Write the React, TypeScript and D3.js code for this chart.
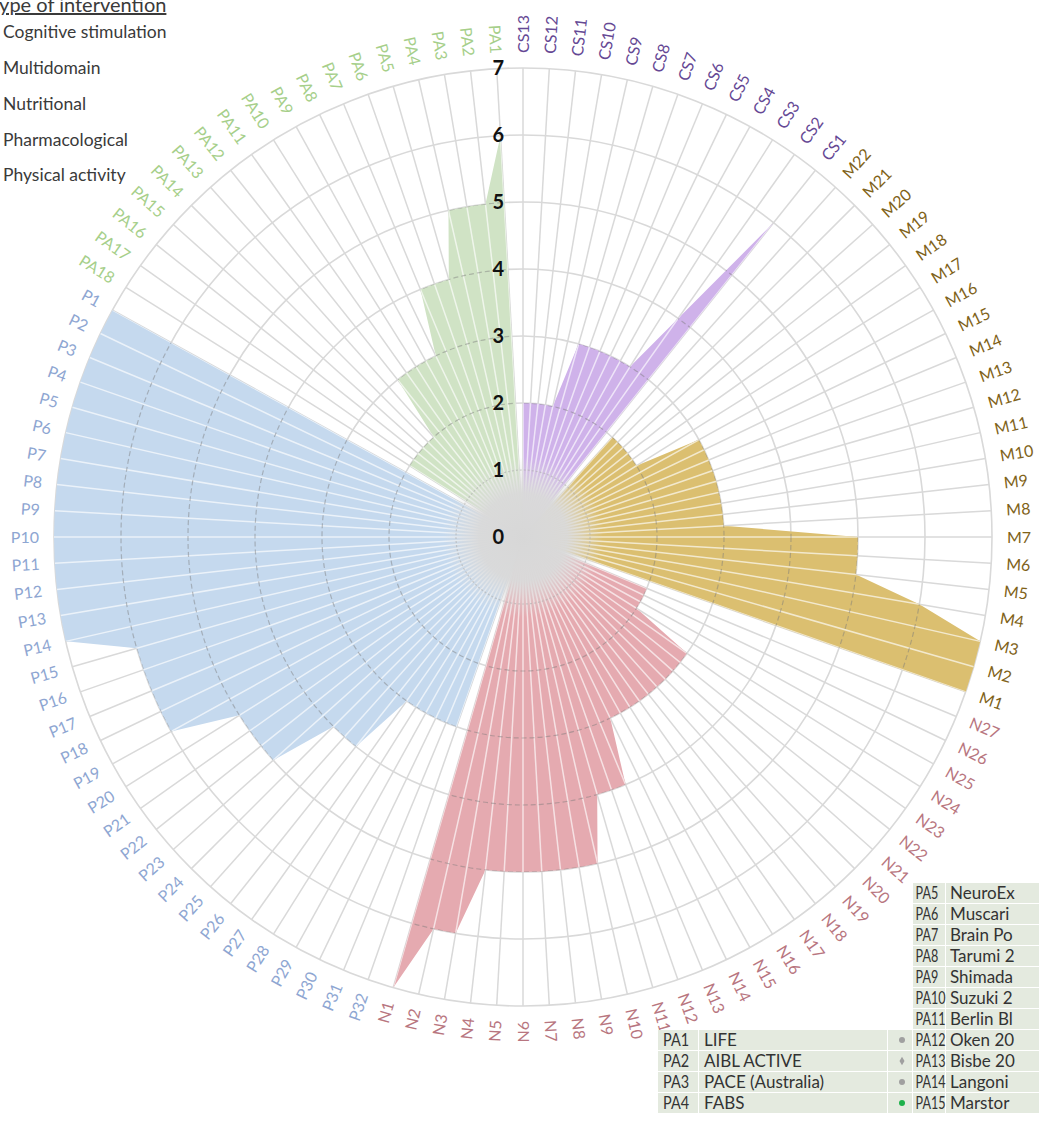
import React from 'react'
import * as d3 from 'd3'

// categories, clockwise from 12 o'clock
const csLabels = ['CS13', 'CS12', 'CS11', 'CS10', 'CS9', 'CS8', 'CS7', 'CS6', 'CS5', 'CS4', 'CS3', 'CS2', 'CS1']
const mLabels = ['M22', 'M21', 'M20', 'M19', 'M18', 'M17', 'M16', 'M15', 'M14', 'M13', 'M12', 'M11', 'M10', 'M9', 'M8', 'M7', 'M6', 'M5', 'M4', 'M3', 'M2', 'M1']
const nLabels = ['N27', 'N26', 'N25', 'N24', 'N23', 'N22', 'N21', 'N20', 'N19', 'N18', 'N17', 'N16', 'N15', 'N14', 'N13', 'N12', 'N11', 'N10', 'N9', 'N8', 'N7', 'N6', 'N5', 'N4', 'N3', 'N2', 'N1']
const pLabels = ['P32', 'P31', 'P30', 'P29', 'P28', 'P27', 'P26', 'P25', 'P24', 'P23', 'P22', 'P21', 'P20', 'P19', 'P18', 'P17', 'P16', 'P15', 'P14', 'P13', 'P12', 'P11', 'P10', 'P9', 'P8', 'P7', 'P6', 'P5', 'P4', 'P3', 'P2', 'P1']
const paLabels = ['PA18', 'PA17', 'PA16', 'PA15', 'PA14', 'PA13', 'PA12', 'PA11', 'PA10', 'PA9', 'PA8', 'PA7', 'PA6', 'PA5', 'PA4', 'PA3', 'PA2', 'PA1']

// values, same order as the labels
const csValues = [2, 2, 2, 2, 2, 3, 3, 3, 3, 3, 3, 4, 6]
const mValues = [2, 2, 2, 2, 2, 2, 3, 3, 3, 3, 3, 3, 3, 3, 3, 5, 5, 5, 6, 7, 7, 7]
const nValues = [2, 2, 2, 2, 3, 3, 3, 3, 3, 3, 3, 3, 3, 3, 4, 4, 4, 5, 5, 5, 5, 5, 5, 5, 6, 6, 7]
const pValues = [3, 3, 3, 3, 3, 3, 4, 4, 4, 5, 5, 5, 5, 6, 6, 6, 6, 6, 7, 7, 7, 7, 7, 7, 7, 7, 7, 7, 7, 7, 7, 7]
const paValues = [2, 2, 2, 2, 2, 2, 3, 3, 3, 3, 3, 4, 4, 4, 5, 5, 5, 6]

const radialTicks = [0, 1, 2, 3, 4, 5, 6, 7]

const legendTypes = ['Cognitive stimulation', 'Multidomain', 'Nutritional', 'Pharmacological', 'Physical activity']

const tableLeftCodes = ['PA1', 'PA2', 'PA3', 'PA4']
const tableLeftNames = ['LIFE', 'AIBL ACTIVE', 'PACE (Australia)', 'FABS']
const tableLeftMarks = ['dot', 'diamond', 'dot', 'green']
const tableRightCodes = ['PA5', 'PA6', 'PA7', 'PA8', 'PA9', 'PA10', 'PA11', 'PA12', 'PA13', 'PA14', 'PA15']
const tableRightNames = ['NeuroEx', 'Muscari', 'Brain Po', 'Tarumi 2', 'Shimada', 'Suzuki 2', 'Berlin Bl', 'Oken 20', 'Bisbe 20', 'Langoni', 'Marstor']

const groups = [
  { labels: csLabels, values: csValues, fill: '#cfb2ea', text: '#654894' },
  { labels: mLabels, values: mValues, fill: '#dbbf70', text: '#806218' },
  { labels: nLabels, values: nValues, fill: '#e5aab0', text: '#b87680' },
  { labels: pLabels, values: pValues, fill: '#c5d9ee', text: '#8ea6d2' },
  { labels: paLabels, values: paValues, fill: '#d0e3c5', text: '#a6cf8a' },
]

const FONT = "Lato, 'Open Sans', sans-serif"

export default function App() {
  const W = 1039
  const H = 1135
  const cx = 523
  const cy = 537

  const allLabels = groups.flatMap(g => g.labels)
  const n = allLabels.length
  const r = d3.scaleLinear().domain([0, 7]).range([0, 469])
  const angle = d3.scaleLinear().domain([0, n]).range([0, 2 * Math.PI])

  const radar = d3.lineRadial<{ a: number; v: number }>()
    .angle(d => d.a)
    .radius(d => r(d.v))
    .curve(d3.curveLinearClosed)

  let start = 0
  const shapes = groups.map(g => {
    const pts = [{ a: angle(start), v: 0 }, ...g.values.map((v, k) => ({ a: angle(start + k), v }))]
    const out = { d: radar(pts) as string, fill: g.fill }
    start += g.labels.length
    return out
  })

  const labelColor: string[] = groups.flatMap(g => g.labels.map(() => g.text))
  const rMax = r(7)
  const spokes = d3.range(n).map(i => angle(i))
  const rowY = (k: number) => 893 + k * 21

  return (
    <svg width={W} height={H} style={{ position: 'absolute', left: 0, top: 0, background: '#fff', fontFamily: FONT }}>
      <defs>
        <clipPath id="fillClip">
          {shapes.map((s, i) => <path key={i} d={s.d} transform={`translate(${cx},${cy})`} />)}
        </clipPath>
        <radialGradient id="hub">
          <stop offset="0%" stopColor="#d7d7d7" stopOpacity={1} />
          <stop offset="55%" stopColor="#d9d9d9" stopOpacity={0.95} />
          <stop offset="100%" stopColor="#dcdcdc" stopOpacity={0} />
        </radialGradient>
      </defs>

      {/* legend (cut at the page edge) */}
      <g fill="#3a3a3a">
        <text x={-11} y={12} fontSize={20} textDecoration="underline">Type of intervention</text>
        {legendTypes.map((t, i) => (
          <text key={t} x={3} y={32 + i * 35.8} dy="0.35em" fontSize={17.5}>{t}</text>
        ))}
      </g>

      <g transform={`translate(${cx},${cy})`}>
        {/* grid */}
        {radialTicks.filter(t => t >= 2).map(t => (
          <circle key={t} r={r(t)} fill="none" stroke="#d9d9d9" strokeWidth={1.6} />
        ))}
        {spokes.map((a, i) => (
          <line key={i} x1={0} y1={0} x2={rMax * Math.sin(a)} y2={-rMax * Math.cos(a)} stroke="#d9d9d9" strokeWidth={1.5} />
        ))}

        {/* filled radar series */}
        {shapes.map((s, i) => <path key={i} d={s.d} fill={s.fill} />)}

        {/* grid lines seen through the fills */}
        <g clipPath="url(#fillClip)" transform={`translate(${-cx},${-cy})`}>
          <g transform={`translate(${cx},${cy})`}>
            {spokes.map((a, i) => (
              <line key={i} x1={0} y1={0} x2={rMax * Math.sin(a)} y2={-rMax * Math.cos(a)} stroke="#fff" strokeOpacity={0.65} strokeWidth={1.5} />
            ))}
            {radialTicks.filter(t => t >= 2 && t < 7).map(t => (
              <circle key={t} r={r(t)} fill="none" stroke="#7a7a7a" strokeOpacity={0.45} strokeWidth={1.2} strokeDasharray="5 3" />
            ))}
          </g>
        </g>

        <circle r={r(1)} fill="none" stroke="#9a9a9a" strokeOpacity={0.6} strokeWidth={1.2} strokeDasharray="2 2" />
        <circle r={80} fill="url(#hub)" />

        {/* value axis labels */}
        {radialTicks.map(t => (
          <text key={t} x={-19} y={-r(t)} dy="0.36em" textAnchor="end" fontSize={20} fontWeight="bold" fill="#111">{t}</text>
        ))}

        {/* category labels */}
        {allLabels.map((lab, i) => {
          const deg = (angle(i) * 180) / Math.PI
          const flip = deg >= 180
          return (
            <text
              key={lab}
              transform={`rotate(${deg - 90}) translate(484,0)${flip ? ' rotate(180)' : ''}`}
              textAnchor={flip ? 'end' : 'start'}
              dy="0.35em"
              fontSize={16}
              fill={labelColor[i]}
            >{lab}</text>
          )
        })}
      </g>

      {/* study table */}
      <g fontSize={17} fill="#333">
        {tableRightCodes.map((c, i) => {
          const y = rowY(i)
          return (
            <g key={c}>
              <rect x={913} y={y - 10} width={32} height={20} fill="#e4eadf" />
              <rect x={946} y={y - 10} width={100} height={20} fill="#e4eadf" />
              <text transform={`translate(915.5,${y}) scale(0.74,1)`} dy="0.35em">{c}</text>
              <text x={950} y={y} dy="0.35em">{tableRightNames[i]}</text>
            </g>
          )
        })}
        {tableLeftCodes.map((c, i) => {
          const y = rowY(7 + i)
          const m = tableLeftMarks[i]
          return (
            <g key={c}>
              <rect x={658} y={y - 10} width={40} height={20} fill="#e4eadf" />
              <rect x={699} y={y - 10} width={188} height={20} fill="#e4eadf" />
              <rect x={888} y={y - 10} width={24} height={20} fill="#e4eadf" />
              <text transform={`translate(663,${y}) scale(0.85,1)`} dy="0.35em">{c}</text>
              <text x={704} y={y} dy="0.35em">{tableLeftNames[i]}</text>
              {m === 'diamond'
                ? <path d={d3.symbol(d3.symbolDiamond, 22)() as string} transform={`translate(902,${y})`} fill="#a0a0a0" />
                : <circle cx={902} cy={y} r={3} fill={m === 'green' ? '#1db14b' : '#a0a0a0'} />}
            </g>
          )
        })}
      </g>
    </svg>
  )
}
